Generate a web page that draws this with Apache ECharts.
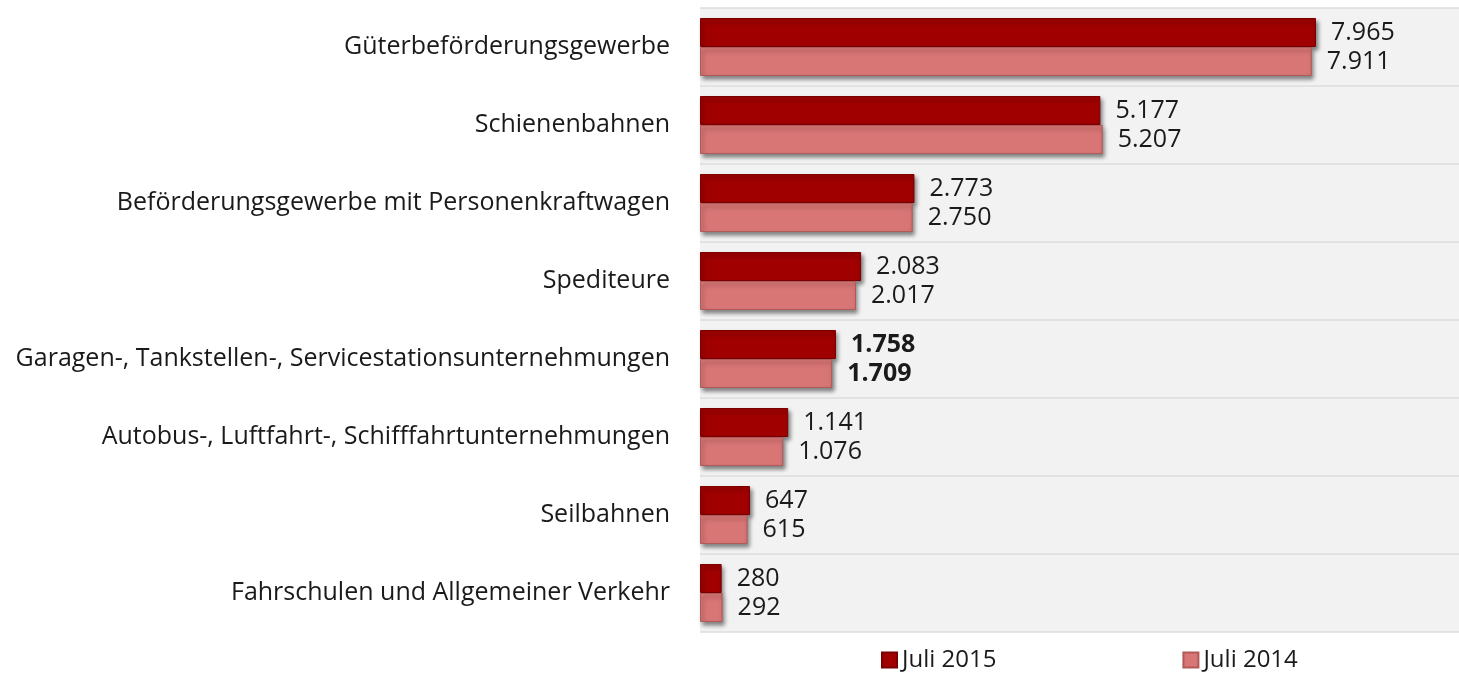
<!DOCTYPE html>
<html>
<head>
<meta charset="utf-8">
<script src="https://cdn.jsdelivr.net/npm/echarts@6/dist/echarts.min.js"></script>
<style>
  html, body { margin: 0; padding: 0; background: #fff; }
  #chart { width: 1459px; height: 681px; }
</style>
</head>
<body>
<div id="chart"></div>
<script>
// Kategorien
const categories = [
  'Güterbeförderungsgewerbe',
  'Schienenbahnen',
  'Beförderungsgewerbe mit Personenkraftwagen',
  'Spediteure',
  'Garagen-, Tankstellen-, Servicestationsunternehmungen',
  'Autobus-, Luftfahrt-, Schifffahrtunternehmungen',
  'Seilbahnen',
  'Fahrschulen und Allgemeiner Verkehr'
];
const juli2015 = [7965, 5177, 2773, 2083, 1758, 1141, 647, 280];
const juli2014 = [7911, 5207, 2750, 2017, 1709, 1076, 615, 292];
const boldRow = 4;

const font = 'Open Sans';
const fmt = (v) => v.toLocaleString('de-DE');

function toData(arr) {
  return arr.map((v, i) => ({
    value: v,
    label: { fontWeight: i === boldRow ? 'bold' : 'normal' }
  }));
}

const chart = echarts.init(document.getElementById('chart'));

const barShadow = {
  shadowColor: 'rgba(0,0,0,0.45)',
  shadowBlur: 4,
  shadowOffsetX: 2,
  shadowOffsetY: 3
};

chart.setOption({
  animation: false,
  textStyle: { fontFamily: font },
  grid: {
    left: 700,
    right: 0,
    top: 8,
    bottom: 49,
    show: true,
    backgroundColor: '#f2f2f2',
    borderWidth: 0
  },
  legend: {
    bottom: 4,
    left: 876,
    itemGap: 186,
    itemWidth: 15,
    itemHeight: 15,
    icon: 'rect',
    textStyle: { fontSize: 24, color: '#1a1a1a', fontFamily: font },
    data: ['Juli 2015', 'Juli 2014']
  },
  xAxis: {
    type: 'value',
    min: 0,
    max: 9814,
    show: false
  },
  yAxis: {
    type: 'category',
    inverse: true,
    data: categories,
    axisLine: { show: false },
    axisTick: { show: false },
    axisLabel: { fontSize: 25, color: '#1a1a1a', margin: 30, fontFamily: font },
    splitLine: { show: true, lineStyle: { color: '#dcdcdc', width: 1.5 } }
  },
  series: [
    {
      name: 'Juli 2015',
      type: 'bar',
      barWidth: 29,
      barGap: '0%',
      data: toData(juli2015),
      itemStyle: Object.assign({ color: '#a00000', borderColor: '#7a0000', borderWidth: 1 }, barShadow),
      label: {
        show: true, position: 'right', distance: 15,
        fontSize: 25, color: '#1a1a1a', fontFamily: font,
        formatter: (p) => fmt(p.value)
      }
    },
    {
      name: 'Juli 2014',
      type: 'bar',
      barWidth: 29,
      barGap: '0%',
      data: toData(juli2014),
      itemStyle: Object.assign({ color: '#d87575', borderColor: '#b05a5a', borderWidth: 1 }, barShadow),
      label: {
        show: true, position: 'right', distance: 15,
        fontSize: 25, color: '#1a1a1a', fontFamily: font,
        formatter: (p) => fmt(p.value)
      }
    }
  ]
});
</script>
</body>
</html>
